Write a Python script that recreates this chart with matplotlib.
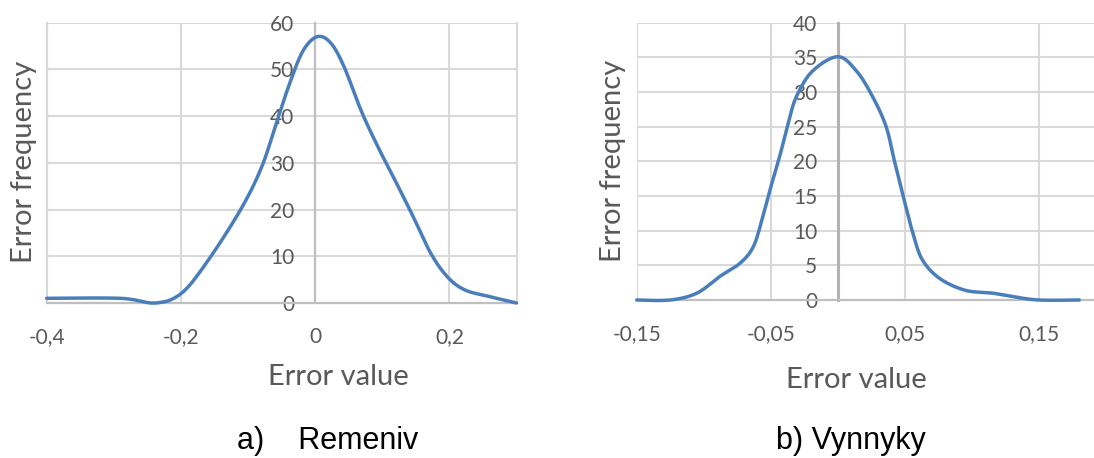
import numpy as np
import matplotlib
matplotlib.use("Agg")
import matplotlib.pyplot as plt

# a) Remeniv - error distribution
rem_x = [-0.4, -0.29, -0.238, -0.2, -0.162, -0.111, -0.08, -0.059, -0.038, -0.018,
         0.003, 0.023, 0.043, 0.069, 0.095, 0.12, 0.146, 0.172, 0.197, 0.223, 0.259, 0.3]
rem_y = [1.0, 1.0, 0.0, 2.0, 8.6, 20.0, 29.0, 38.0, 47.0, 54.0,
         57.0, 55.7, 50.6, 41.0, 33.0, 26.0, 18.5, 10.7, 5.6, 2.8, 1.4, 0.0]
rem_xticks = [-0.4, -0.2, 0.0, 0.2]
rem_xlabels = ["-0,4", "-0,2", "0", "0,2"]
rem_yticks = [0, 10, 20, 30, 40, 50, 60]

# b) Vynnyky - error distribution
vyn_x = [-0.15, -0.125, -0.105, -0.088, -0.073, -0.063, -0.056, -0.05, -0.043, -0.037,
         -0.031, -0.019, 0.0, 0.014, 0.026, 0.036, 0.042, 0.05, 0.056, 0.063, 0.076,
         0.095, 0.115, 0.13, 0.15, 0.18]
vyn_y = [0.0, 0.0, 1.0, 3.4, 5.3, 7.7, 12.0, 16.3, 21.0, 25.5,
         29.3, 33.0, 35.1, 33.0, 29.3, 25.0, 20.2, 14.0, 9.6, 5.8, 3.1,
         1.4, 1.0, 0.5, 0.0, 0.0]
vyn_xticks = [-0.15, -0.05, 0.05, 0.15]
vyn_xlabels = ["-0,15", "-0,05", "0,05", "0,15"]
vyn_yticks = [0, 5, 10, 15, 20, 25, 30, 35, 40]

W, H = 1094, 458
LINE = "#4A7EBB"
GRID = "#D9D9D9"
TXT = "#595959"
FONT = ["Lato", "DejaVu Sans"]


def smooth(xs, ys, n=20):
    # Catmull-Rom curve through the points, like a "smoothed line" chart
    p = np.column_stack([xs, ys])
    p = np.vstack([p[0], p, p[-1]])
    out = []
    t = np.linspace(0, 1, n, endpoint=False)[:, None]
    for i in range(1, len(p) - 2):
        p0, p1, p2, p3 = p[i - 1], p[i], p[i + 1], p[i + 2]
        seg = 0.5 * ((2 * p1) + (-p0 + p2) * t + (2 * p0 - 5 * p1 + 4 * p2 - p3) * t ** 2
                     + (-p0 + 3 * p1 - 3 * p2 + p3) * t ** 3)
        out.append(seg)
    out.append(p[-2][None, :])
    out = np.vstack(out)
    return out[:, 0], out[:, 1]


def px_box(x0, y0, x1, y1):
    return [x0 / W, 1 - y1 / H, (x1 - x0) / W, (y1 - y0) / H]


def draw(ax, xs, ys, xlim, ylim, xticks, xlabels, yticks, axis_lw, axis_col, edges):
    ax.set_xlim(*xlim)
    ax.set_ylim(*ylim)
    ax.set_xticks(xticks)
    ax.set_xticklabels(xlabels)
    ax.set_yticks(yticks)
    ax.set_yticklabels([str(v) for v in yticks])
    for v in yticks[1:]:
        ax.axhline(v, color=GRID, lw=1.5, zorder=1)
    for v in xticks:
        if v != 0:
            ax.axvline(v, color=GRID, lw=1.5, zorder=1)
    for v in edges:
        ax.axvline(v, color=GRID, lw=1.5, zorder=1, clip_on=False)
    for s in ["top", "right"]:
        ax.spines[s].set_visible(False)
    ax.spines["left"].set_position(("data", 0))
    ax.spines["left"].set_color(axis_col)
    ax.spines["left"].set_linewidth(axis_lw)
    ax.spines["bottom"].set_color("#BFBFBF")
    ax.spines["bottom"].set_linewidth(1.6)
    ax.tick_params(axis="both", length=0, labelsize=15, labelcolor=TXT)
    ax.tick_params(axis="y", pad=15)
    ax.tick_params(axis="x", pad=17)
    for lab in ax.get_xticklabels() + ax.get_yticklabels():
        lab.set_fontfamily(FONT)
    sx, sy = smooth(xs, ys)
    ax.plot(sx, sy, color=LINE, lw=2.5, zorder=3, solid_capstyle="round", clip_on=False)


fig = plt.figure(figsize=(W / 100, H / 100), dpi=100)

ax1 = fig.add_axes(px_box(46.7, 22.7, 516.5, 303))
draw(ax1, rem_x, rem_y, (-0.4, 0.3), (0, 60), rem_xticks, rem_xlabels, rem_yticks,
     1.6, "#BFBFBF", [-0.4, 0.3])

ax2 = fig.add_axes(px_box(636.7, 22.7, 1094, 300))
draw(ax2, vyn_x, vyn_y, (-0.15, 0.191), (0, 40), vyn_xticks, vyn_xlabels, vyn_yticks,
     2.2, "#B3B3B3", [])

fig.text(24 / W, 1 - 162 / H, "Error frequency", rotation=90, ha="center", va="center",
         fontsize=21, color=TXT, family=FONT)
fig.text(613 / W, 1 - 161 / H, "Error frequency", rotation=90, ha="center", va="center",
         fontsize=21, color=TXT, family=FONT)
fig.text(338 / W, 1 - 377 / H, "Error value", ha="center", va="center",
         fontsize=21, color=TXT, family=FONT)
fig.text(856 / W, 1 - 380 / H, "Error value", ha="center", va="center",
         fontsize=21, color=TXT, family=FONT)

cap_font = ["Liberation Sans", "DejaVu Sans"]
fig.text(237 / W, 1 - 441 / H, "a)    Remeniv", ha="left", va="center",
         fontsize=22, color="black", family=cap_font)
fig.text(776 / W, 1 - 441 / H, "b) Vynnyky", ha="left", va="center",
         fontsize=22, color="black", family=cap_font)

fig.savefig("out.png", dpi=100)
